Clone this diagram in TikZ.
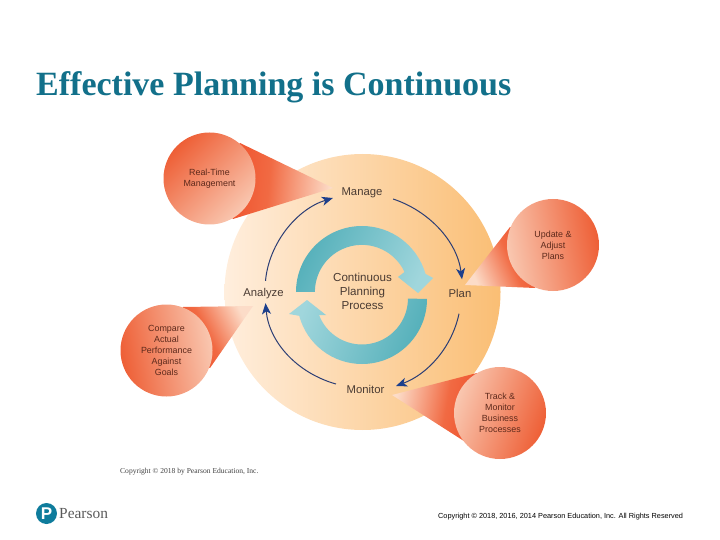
\documentclass[tikz,border=0pt]{standalone}
\usepackage{fontspec}
\setmainfont{Liberation Sans}
\newfontfamily\serifface{Liberation Serif}
\usetikzlibrary{arrows.meta}
\definecolor{titleteal}{HTML}{12708A}
\definecolor{inktext}{HTML}{4A3B33}
\definecolor{bubbletext}{HTML}{5E2A1C}
\definecolor{flowblue}{HTML}{2C3E75}
\definecolor{headblue}{HTML}{1C3F8C}
\definecolor{tealdark}{HTML}{55B0BA}
\definecolor{teallight}{HTML}{A0D6DC}
\definecolor{bubbledark}{HTML}{EE5F36}
\definecolor{bubblelight}{HTML}{F9C7B0}
\definecolor{conedark}{HTML}{EE4420}
\definecolor{conemid}{HTML}{F16A43}
\definecolor{conelight}{HTML}{FCDCC8}
\definecolor{discl}{HTML}{FFEEDD}
\definecolor{discr}{HTML}{FABE74}
\definecolor{logoblue}{HTML}{0F7C9C}
\tikzset{
  stagelabel/.style={inner sep=2pt,text height=8.5pt,text depth=2.5pt,text=inktext,font=\fontsize{11.3}{14}\selectfont},
  bubble/.style={circle,minimum size=92pt,inner sep=0pt,align=center,text=bubbletext,font=\fontsize{8.9}{11}\selectfont},
  flow/.style={draw=flowblue,line width=1pt,-{Stealth[length=11pt,width=9pt,inset=3pt,color=headblue]}},
  tealring/.style={left color=tealdark,right color=teallight},
  cone/.style={left color=conedark,right color=conelight,middle color=conemid},
  bubbleshade/.style={left color=bubbledark,right color=bubblelight}
}
\begin{document}
\begin{tikzpicture}[x=1pt,y=-1pt]
\useasboundingbox (0,0) rectangle (720,540);
% disc
\shade[left color=discl,right color=discr] (362.5,292) circle[radius=138];
% process ring: upper arrow
\shade[tealring,shading angle=65] (296,292) arc[start angle=180,end angle=344,radius=66]
  -- (433,278) -- (418,293) -- (398,277) -- (404.5,272) arc[start angle=335,end angle=180,radius=47] -- cycle;
% process ring: lower arrow
\shade[tealring,shading angle=250] (427,299) arc[start angle=0,end angle=165,radius=65]
  -- (289,314) -- (307,300) -- (326,315) -- (319,315) arc[start angle=159,end angle=0,radius=46] -- cycle;
% cones
\shade[cone,shading angle=85] (240,143) -- (333,188) -- (233,219) -- (205,178) -- cycle;
\shade[cone,shading angle=294] (510,227) -- (465,285) -- (535,288) -- (553,245) -- cycle;
\shade[cone,shading angle=260] (477,373) -- (392,395) -- (467,443) -- (500,413) -- cycle;
\shade[cone,shading angle=117] (183,307) -- (253,306) -- (210,368) -- (166,351) -- cycle;
% bubbles
\node[bubble,bubbleshade,shading angle=45] (realtime) at (209.5,178.5) {Real-Time\\Management};
\node[bubble,bubbleshade,shading angle=280] (update) at (553,245) {Update \&\\Adjust\\Plans};
\node[bubble,bubbleshade,shading angle=250] (track) at (500,413) {Track \&\\Monitor\\Business\\Processes};
\node[bubble,bubbleshade,shading angle=100] (compare) at (166.5,350.5) {Compare\\Actual\\Performance\\Against\\Goals};
% stage labels
\node[stagelabel] (manage) at (362,193) {Manage};
\node[stagelabel] (plan) at (460,294.5) {Plan};
\node[stagelabel] (monitor) at (365.5,390) {Monitor};
\node[stagelabel] (analyze) at (263.5,293) {Analyze};
\node[align=center,text=inktext,font=\fontsize{11.6}{14}\selectfont,inner sep=0pt] (process) at (362.5,291) {Continuous\\Planning\\Process};
% connectors
\draw[flow] ([shift={(8.5,6)}]manage.east) .. controls (429,211) and (457,241) .. ([shift={(2,-7.5)}]plan.north);
\draw[flow] ([shift={(-1,11.5)}]plan.south) .. controls (452,347) and (428,374) .. ([shift={(9.5,-4)}]monitor.east);
\draw[flow] ([shift={(-8.5,-6)}]monitor.west) .. controls (297,373) and (269,342) .. ([shift={(2,2.5)}]analyze.south);
\draw[flow] ([shift={(2,-4.5)}]analyze.north) .. controls (269,243) and (297,209) .. ([shift={(-6.5,5)}]manage.west);
% text
\node[anchor=base west,inner sep=0pt,text=titleteal,font=\serifface\bfseries\fontsize{34}{34}\selectfont] (title) at (36,96) {Effective Planning is Continuous};
\node[anchor=base west,inner sep=0pt,text=black!75,font=\serifface\fontsize{7.55}{8}\selectfont] (credit) at (120,473) {Copyright © 2018 by Pearson Education, Inc.};
\node[anchor=base west,inner sep=0pt,text=black,font=\fontsize{7.33}{8}\selectfont] (rights) at (438,518) {Copyright © 2018, 2016, 2014 Pearson Education, Inc. All Rights Reserved};
% logo
\node[circle,fill=logoblue,minimum size=21pt,inner sep=0pt,text=white,font=\bfseries\fontsize{17}{17}\selectfont] (logo) at (46.5,513.5) {P};
\node[anchor=base west,inner sep=0pt,text=black!65,font=\serifface\fontsize{15.4}{16}\selectfont] (brand) at (59,518) {Pearson};
\end{tikzpicture}
\end{document}
